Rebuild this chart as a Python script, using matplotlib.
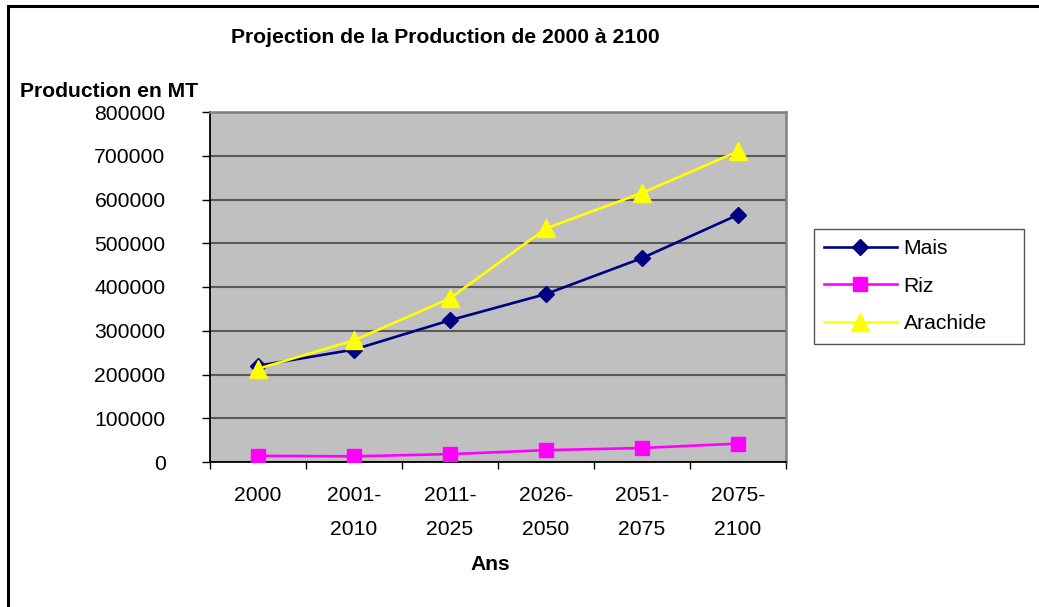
import matplotlib
matplotlib.use("Agg")
import matplotlib.pyplot as plt
from matplotlib.patches import Rectangle
from matplotlib.ticker import FixedLocator, NullFormatter

plt.rcParams['font.family'] = ['Liberation Sans', 'DejaVu Sans']

# Production projections (MT) per period
periods = ["2000", "2001-\n2010", "2011-\n2025", "2026-\n2050", "2051-\n2075", "2075-\n2100"]
mais = [220000, 257000, 324000, 384000, 466000, 565000]
riz = [14000, 13000, 18000, 27000, 32000, 42000]
arachide = [213000, 278000, 374000, 534000, 615000, 710000]
y_ticks = [0, 100000, 200000, 300000, 400000, 500000, 600000, 700000, 800000]

W, H = 1039, 607
FS = 15.2
fig = plt.figure(figsize=(W / 100, H / 100), dpi=100)
fig.patch.set_facecolor("white")

def fx(px):
    return px / W

def fy(py):
    return 1 - py / H

ax = fig.add_axes([fx(210), fy(462), fx(576), 350 / H])
ax.set_facecolor("#c0c0c0")
ax.set_axisbelow(True)

xs = [i + 0.5 for i in range(len(periods))]
ax.plot(xs, mais, color="#000080", lw=1.9, marker="D", ms=8.5,
        mec="#000080", mfc="#000080", label="Mais", zorder=3)
ax.plot(xs, riz, color="#ff00ff", lw=1.9, marker="s", ms=10.5,
        mec="#ff00ff", mfc="#ff00ff", label="Riz", zorder=4)
ax.plot(xs, arachide, color="#ffff00", lw=1.9, marker="^", ms=13,
        mec="#ffff00", mfc="#ffff00", label="Arachide", zorder=5)

ax.set_xlim(0, len(periods))
ax.set_ylim(0, 800000)
ax.set_yticks(y_ticks)
ax.set_yticklabels([str(v) for v in y_ticks])
ax.yaxis.grid(True, color="#5a5a5a", lw=1.5)

# category boundaries get tick marks, category centres get the labels
ax.xaxis.set_major_locator(FixedLocator(range(len(periods) + 1)))
ax.xaxis.set_major_formatter(NullFormatter())
ax.xaxis.set_minor_locator(FixedLocator(xs))
ax.set_xticklabels(periods, minor=True, linespacing=2.0)

ax.tick_params(axis="x", which="major", length=5, width=1, color="black", direction="out")
ax.tick_params(axis="x", which="minor", length=0, pad=17, labelsize=FS)
ax.tick_params(axis="y", length=6, width=1, color="black", direction="out", pad=26, labelsize=FS)
for lbl in ax.get_xticklabels(minor=True):
    lbl.set_horizontalalignment("center")

ax.spines["left"].set_color("black")
ax.spines["bottom"].set_color("black")
ax.spines["left"].set_linewidth(1.3)
ax.spines["bottom"].set_linewidth(1.3)
ax.spines["top"].set_color("#808080")
ax.spines["right"].set_color("#808080")
ax.spines["top"].set_linewidth(1.8)
ax.spines["right"].set_linewidth(1.8)

# titles
fig.text(fx(445), fy(42.7), "Projection de la Production de 2000 à 2100",
         ha="center", va="baseline", fontsize=FS, fontweight="bold")
fig.text(fx(20), fy(96.5), "Production en MT",
         ha="left", va="baseline", fontsize=FS, fontweight="bold")
fig.text(fx(490), fy(570), "Ans",
         ha="center", va="baseline", fontsize=FS, fontweight="bold")

# legend
leg = fig.legend(loc="upper left", bbox_to_anchor=(fx(814), fy(229)),
                 bbox_transform=fig.transFigure, frameon=False, fontsize=FS,
                 borderaxespad=0, borderpad=0.47, handlelength=3.45,
                 handletextpad=0.33, labelspacing=0.88)
fig.add_artist(Rectangle((fx(814), fy(344)), fx(210), 115 / H,
                         transform=fig.transFigure, fill=False,
                         edgecolor="#555555", lw=1.0))

# outer chart border (open to the right and bottom)
fig.add_artist(Rectangle((fx(7.5), fy(620)), fx(1100), 614.5 / H,
                         transform=fig.transFigure, fill=False,
                         edgecolor="black", lw=2.2, clip_on=False))

fig.savefig("out.png", dpi=100, facecolor="white")
